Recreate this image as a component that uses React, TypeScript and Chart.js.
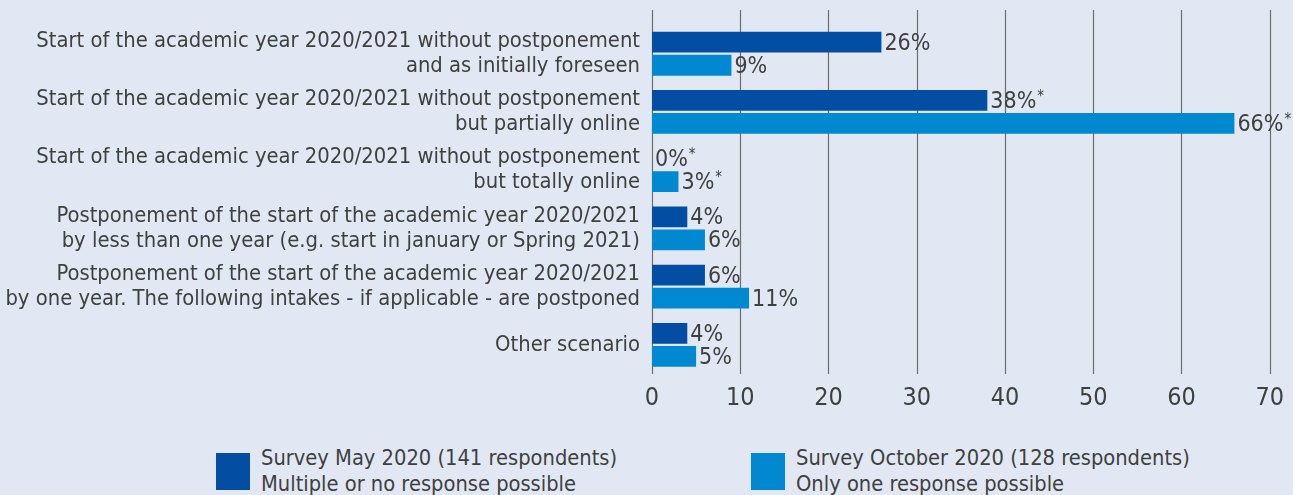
import React, { useEffect, useRef } from "react";
import { Chart, registerables } from "chart.js";

Chart.register(...registerables);

const categories: string[][] = [
  ["Start of the academic year 2020/2021 without postponement", "and as initially foreseen"],
  ["Start of the academic year 2020/2021 without postponement", "but partially online"],
  ["Start of the academic year 2020/2021 without postponement", "but totally online"],
  ["Postponement of the start of the academic year 2020/2021", "by less than one year (e.g. start in january or Spring 2021)"],
  ["Postponement of the start of the academic year 2020/2021", "by one year. The following intakes - if applicable - are postponed"],
  ["Other scenario"],
];
const mayValues = [26, 38, 0, 4, 6, 4];
const octValues = [9, 66, 3, 6, 11, 5];
const mayLabels = ["26%", "38%*", "0%*", "4%", "6%", "4%"];
const octLabels = ["9%", "66%*", "3%*", "6%", "11%", "5%"];
const mayLegend = ["Survey May 2020 (141 respondents)", "Multiple or no response possible"];
const octLegend = ["Survey October 2020 (128 respondents)", "Only one response possible"];

const DARK = "#034ea2";
const LIGHT = "#0088d1";
const BG = "#e1e8f3";
const TEXT = "#404040";
const FONT = "'DejaVu Sans Condensed', 'DejaVu Sans', sans-serif";

const gridPlugin = {
  id: "customGrid",
  beforeDatasetsDraw(chart: any) {
    const { ctx, chartArea, scales } = chart;
    const xs = scales.x;
    ctx.save();
    for (let v = 0; v <= 70; v += 10) {
      const x = Math.round(xs.getPixelForValue(v)) + 0.5;
      ctx.beginPath();
      ctx.strokeStyle = "#6e6e6e";
      ctx.lineWidth = 1.2;
      ctx.moveTo(x, 10);
      ctx.lineTo(x, chartArea.bottom);
      ctx.stroke();
    }
    ctx.restore();
  },
};

const labelPlugin = {
  id: "valueLabels",
  afterDatasetsDraw(chart: any) {
    const { ctx } = chart;
    const sets = [mayLabels, octLabels];
    ctx.save();
    ctx.fillStyle = TEXT;
    ctx.textBaseline = "middle";
    ctx.textAlign = "left";
    sets.forEach((labels, di) => {
      const meta = chart.getDatasetMeta(di);
      meta.data.forEach((bar: any, i: number) => {
        const txt = labels[i];
        const main = txt.replace("*", "");
        const star = txt.includes("*");
        const x = bar.x + 3;
        const y = bar.y + 1.5;
        ctx.font = `23px ${FONT}`;
        ctx.fillText(main, x, y);
        if (star) {
          const w = ctx.measureText(main).width;
          ctx.font = `15px ${FONT}`;
          ctx.fillText("*", x + w + 1, y - 5);
        }
      });
    });
    ctx.restore();
  },
};

export default function App() {
  const ref = useRef<HTMLCanvasElement | null>(null);
  useEffect(() => {
    if (!ref.current) return;
    const chart = new Chart(ref.current, {
      type: "bar",
      data: {
        labels: categories as any,
        datasets: [
          { label: mayLegend.join(" "), data: mayValues, backgroundColor: DARK, categoryPercentage: 0.79, barPercentage: 0.91 },
          { label: octLegend.join(" "), data: octValues, backgroundColor: LIGHT, categoryPercentage: 0.79, barPercentage: 0.91 },
        ],
      },
      options: {
        indexAxis: "y",
        animation: false,
        responsive: false,
        maintainAspectRatio: false,
        layout: { padding: { top: 24, right: 23, left: 0, bottom: 0 } },
        plugins: { legend: { display: false }, tooltip: { enabled: false } },
        scales: {
          x: {
            min: 0,
            max: 70,
            grid: { display: false, drawTicks: false },
            border: { display: false },
            ticks: { stepSize: 10, color: TEXT, font: { family: FONT, size: 25 }, padding: 9 },
            afterFit: (s: any) => { s.height = 56; },
          },
          y: {
            grid: { display: false, drawTicks: false },
            border: { display: false },
            ticks: { color: TEXT, font: { family: FONT, size: 21.8, lineHeight: 1.15 }, padding: 12, autoSkip: false },
            afterFit: (s: any) => { s.width = 652; },
          },
        },
      },
      plugins: [gridPlugin, labelPlugin],
    });
    return () => chart.destroy();
  }, []);

  const legendItem = (color: string, lines: string[], left: number) => (
    <div style={{ position: "absolute", left, top: 445, display: "flex", alignItems: "flex-start" }}>
      <div style={{ width: 34, height: 37, background: color, marginTop: 8 }} />
      <div style={{ marginLeft: 11, color: TEXT, fontFamily: FONT, fontSize: 21.7, lineHeight: "26px", whiteSpace: "nowrap" }}>
        {lines.map((l, i) => <div key={i}>{l}</div>)}
      </div>
    </div>
  );

  return (
    <div style={{ position: "absolute", left: 0, top: 0, width: 1293, height: 495, background: BG, overflow: "hidden" }}>
      <canvas ref={ref} width={1293} height={430} style={{ position: "absolute", left: 0, top: 0 }} />
      {legendItem(DARK, mayLegend, 216)}
      {legendItem(LIGHT, octLegend, 751)}
    </div>
  );
}
